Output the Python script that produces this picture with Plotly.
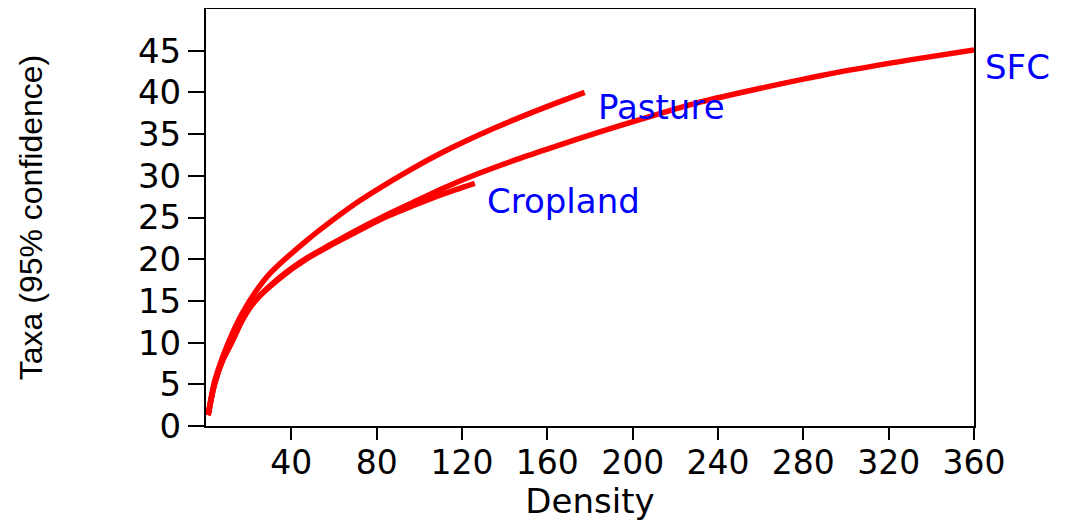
import plotly.graph_objects as go

# Rarefaction curves (Density vs Taxa)
sfc_x = [1, 4, 8, 12, 17, 23, 35, 47, 58, 70, 83, 97, 112, 128, 145, 160, 185, 208, 231, 260, 296, 330, 360]
sfc_y = [1.3, 5.0, 8.0, 10.0, 12.7, 15.0, 17.9, 20.1, 21.7, 23.4, 25.1, 26.8, 28.6, 30.3, 31.9, 33.2,
         35.3, 37.1, 38.8, 40.5, 42.4, 43.9, 45.1]

pasture_x = [1, 4, 8, 12, 17, 23, 30, 47, 60, 72, 85, 97, 110, 122, 135, 150, 165, 177.5]
pasture_y = [1.3, 5.3, 8.4, 10.9, 13.5, 16.0, 18.3, 22.2, 24.8, 27.0, 29.1, 30.9, 32.7, 34.2, 35.7,
             37.3, 38.8, 40.0]

cropland_x = [1, 4, 8, 12, 17, 23, 35, 47, 58, 70, 83, 97, 111, 126]
cropland_y = [1.3, 5.0, 8.0, 10.0, 12.7, 15.0, 17.8, 20.0, 21.6, 23.2, 24.9, 26.4, 27.8, 29.1]

x_ticks = [40, 80, 120, 160, 200, 240, 280, 320, 360]
y_ticks = [0, 5, 10, 15, 20, 25, 30, 35, 40, 45]

labels = ["SFC", "Pasture", "Cropland"]

FONT = "DejaVu Sans"
FS = 34
RED = "#ff0000"
BLUE = "#0000ff"

fig = go.Figure()
for xs, ys, name in [(sfc_x, sfc_y, "SFC"), (pasture_x, pasture_y, "Pasture"),
                     (cropland_x, cropland_y, "Cropland")]:
    fig.add_trace(go.Scatter(x=xs, y=ys, mode="lines", name=name,
                             line=dict(color=RED, width=5.5, shape="spline", smoothing=0.8)))

# SFC label sits just outside the right edge of the plot area
fig.add_annotation(x=1.012, y=43.1, xref="paper", yref="y", text=labels[0], showarrow=False,
                   xanchor="left", yanchor="middle", font=dict(family=FONT, size=FS, color=BLUE))
fig.add_annotation(x=183, y=38.2, xref="x", yref="y", text=labels[1], showarrow=False,
                   xanchor="left", yanchor="middle", font=dict(family=FONT, size=FS, color=BLUE))
fig.add_annotation(x=131, y=27.0, xref="x", yref="y", text=labels[2], showarrow=False,
                   xanchor="left", yanchor="middle", font=dict(family=FONT, size=FS, color=BLUE))

axis_common = dict(showline=True, linecolor="black", linewidth=2, mirror=True,
                   ticks="outside", tickcolor="black", tickwidth=2,
                   showgrid=False, zeroline=False, automargin=False)

fig.update_xaxes(range=[0, 360], tickvals=x_ticks, ticktext=[str(v) for v in x_ticks],
                 ticklen=12, ticklabelstandoff=-6,
                 tickfont=dict(family=FONT, size=33, color="black"),
                 title=dict(text="Density", font=dict(family=FONT, size=FS, color="black"),
                            standoff=4),
                 **axis_common)
fig.update_yaxes(range=[0, 50], tickvals=y_ticks, ticktext=[str(v) for v in y_ticks],
                 ticklen=16,
                 tickfont=dict(family=FONT, size=FS, color="black"),
                 title=dict(text="Taxa (95% confidence)",
                            font=dict(family="Liberation Sans", size=32, color="black"),
                            standoff=86),
                 **axis_common)

# the page body adds an 8 px offset; sizes/margins compensate for it
fig.update_layout(width=1075, height=513,
                  margin=dict(l=198, r=109, t=1, b=95),
                  plot_bgcolor="white", paper_bgcolor="white",
                  showlegend=False)

fig.write_html("out.html")
